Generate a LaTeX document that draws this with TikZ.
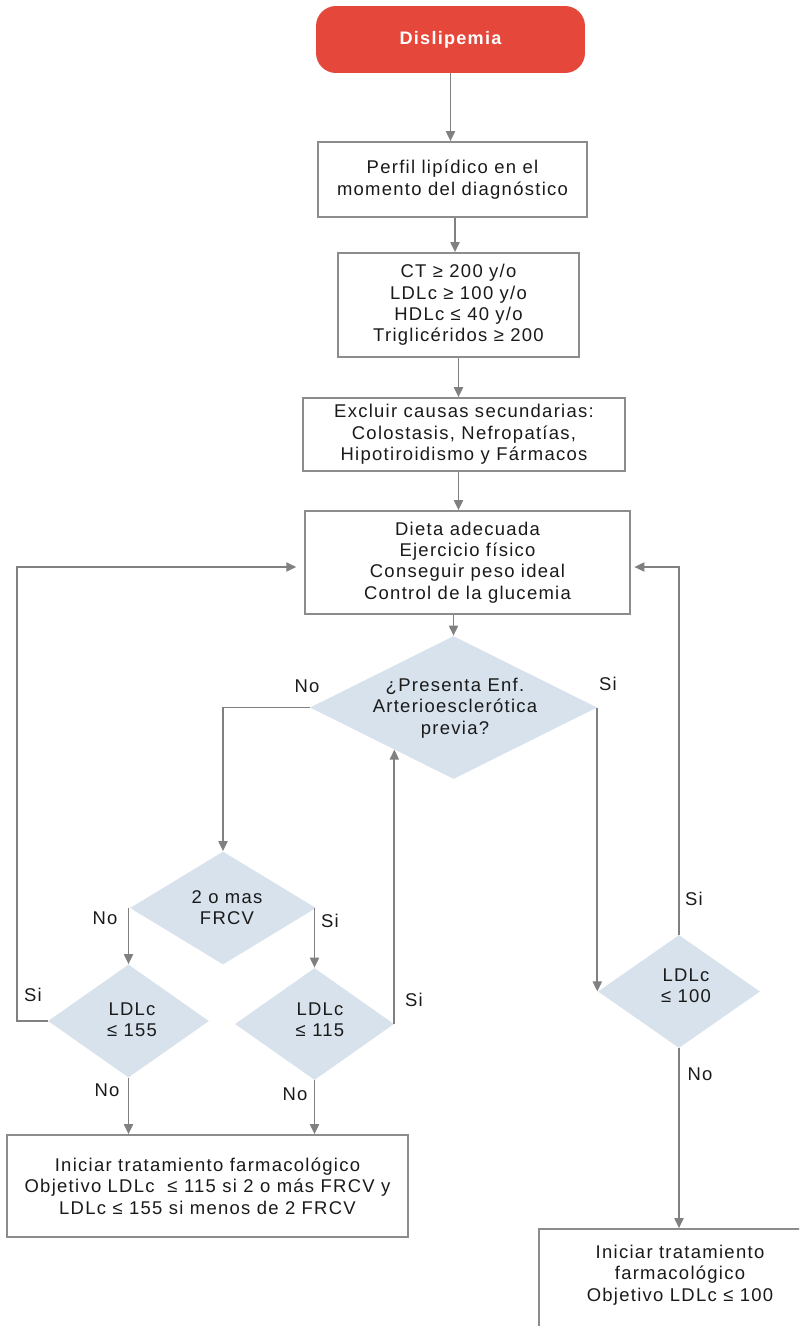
\documentclass[tikz,border=0pt]{standalone}
\usepackage{fontspec}
\setmainfont{Liberation Sans}[LetterSpace=7]
\usetikzlibrary{shapes.geometric,arrows.meta,calc}
\definecolor{redbox}{HTML}{E5473B}
\definecolor{lineg}{HTML}{808080}
\definecolor{edgeg}{HTML}{8C8C8C}
\definecolor{diafill}{HTML}{D7E2EC}
\definecolor{txt}{HTML}{1A1A1A}

\begin{document}
\begin{tikzpicture}[x=0.02cm,y=-0.02cm,
  every node/.style={font=\fontsize{10.5}{12.2}\selectfont, align=center, inner sep=0pt, text=txt},
  startbox/.style={rectangle, rounded corners=0.4cm, fill=redbox, text=white,
    font=\fontsize{10.3}{12.2}\selectfont\bfseries},
  box/.style={rectangle, draw=edgeg, line width=0.95pt, fill=white},
  dia/.style={diamond, fill=diafill, inner sep=0pt},
  link/.style={draw=lineg, line width=1.1pt, -{Triangle[length=5.7pt,width=5.1pt]}},
  lbl/.style={font=\fontsize{10.5}{12.2}\selectfont}
]
\clip (0,0) rectangle (799,1326);
\fill[white] (0,0) rectangle (799,1326);

% main column
\node[startbox, minimum width=5.38cm, minimum height=1.34cm] (start) at (450.5,39.5) {Dislipemia};
\node[box, minimum width=5.38cm, minimum height=1.5cm] (b1) at (452.5,179.5)
  {Perfil lipídico en el\\momento del diagnóstico};
\node[box, minimum width=4.82cm, minimum height=2.08cm] (b2) at (458.5,305)
  {CT ≥ 200 y/o\\LDLc ≥ 100 y/o\\HDLc ≤ 40 y/o\\Triglicéridos ≥ 200};
\node[box, minimum width=6.44cm, minimum height=1.46cm] (b3) at (464,434.5)
  {Excluir causas secundarias:\\Colostasis, Nefropatías,\\Hipotiroidismo y Fármacos};
\node[box, minimum width=6.5cm, minimum height=2.06cm] (b4) at (467.5,562.5)
  {Dieta adecuada\\Ejercicio físico\\Conseguir peso ideal\\Control de la glucemia};

% decisions
\node[dia, minimum width=5.74cm, minimum height=2.86cm] (d1) at (453.5,707.5) {};
\node (d1t) at (455,708) {¿Presenta Enf.\\Arterioesclerótica\\previa?};
\node[dia, minimum width=3.72cm, minimum height=2.26cm] (d2) at (223,908) {};
\node (d2t) at (227,907.5) {2 o mas\\FRCV};
\node[dia, minimum width=3.22cm, minimum height=2.26cm] (d3) at (128.5,1021) {};
\node (d3t) at (132,1020) {LDLc\\≤ 155};
\node[dia, minimum width=3.18cm, minimum height=2.24cm] (d4) at (314.5,1024) {};
\node (d4t) at (320,1020) {LDLc\\≤ 115};
\node[dia, minimum width=3.24cm, minimum height=2.26cm] (d5) at (679,991.5) {};
\node (d5t) at (686,986) {LDLc\\≤ 100};

% treatment boxes
\node[box, minimum width=8.02cm, minimum height=2.04cm] (b5) at (207.5,1186)
  {Iniciar tratamiento farmacológico\\Objetivo LDLc \ ≤ 115 si 2 o más FRCV y\\LDLc ≤ 155 si menos de 2 FRCV};
\node[box, minimum width=5.64cm, minimum height=2.3cm] (b6) at (680,1286.5) {};
\node (b6t) at (680,1275) {Iniciar tratamiento\\farmacológico\\Objetivo LDLc ≤ 100};

% connectors
\coordinate (col) at (455,0);
\coordinate (loopy) at (0,567);
\coordinate (lx) at (17,0);
\draw[link] (start.south) -- (start.south |- b1.north);
\draw[link] (col |- b1.south) -- (col |- b2.north);
\draw[link] (b2.south) -- (b2.south |- b3.north);
\draw[link] (b2.south |- b3.south) -- (b2.south |- b4.north);
\draw[link] (d1.north |- b4.south) -- (d1.north);
\draw[link] (d1.west) -| (d2.north);
\draw[link] (d3.north |- d2.west) -- (d3.north);
\draw[link] (d4.north |- d2.east) -- (d4.north);
\draw[link, shorten >=4.5pt] (d3.west) -| (lx |- loopy) -- (b4.west |- loopy);
\coordinate (d1in) at ($(d1.west)!0.585!(d1.south)$);
\draw[link] (d4.east) -- (d4.east |- d1in);
\draw[link] (d1.east) -- (d1.east |- d5.west);
\draw[link, shorten >=2pt] (d5.north) |- (b4.east |- loopy);
\draw[link] (d3.south) -- (d3.south |- b5.north);
\draw[link] (d4.south) -- (d4.south |- b5.north);
\draw[link] (d5.south) -- (d5.south |- b6.north);

% branch labels
\node[lbl] (l1) at (307,686) {No};
\node[lbl] (l2) at (608,684) {Si};
\node[lbl] (l3) at (105,918) {No};
\node[lbl] (l4) at (330,921) {Si};
\node[lbl] (l5) at (33,995) {Si};
\node[lbl] (l6) at (414,1000) {Si};
\node[lbl] (l7) at (107,1090) {No};
\node[lbl] (l8) at (295,1094) {No};
\node[lbl] (l9) at (694,899) {Si};
\node[lbl] (l10) at (700,1074) {No};
\end{tikzpicture}
\end{document}
